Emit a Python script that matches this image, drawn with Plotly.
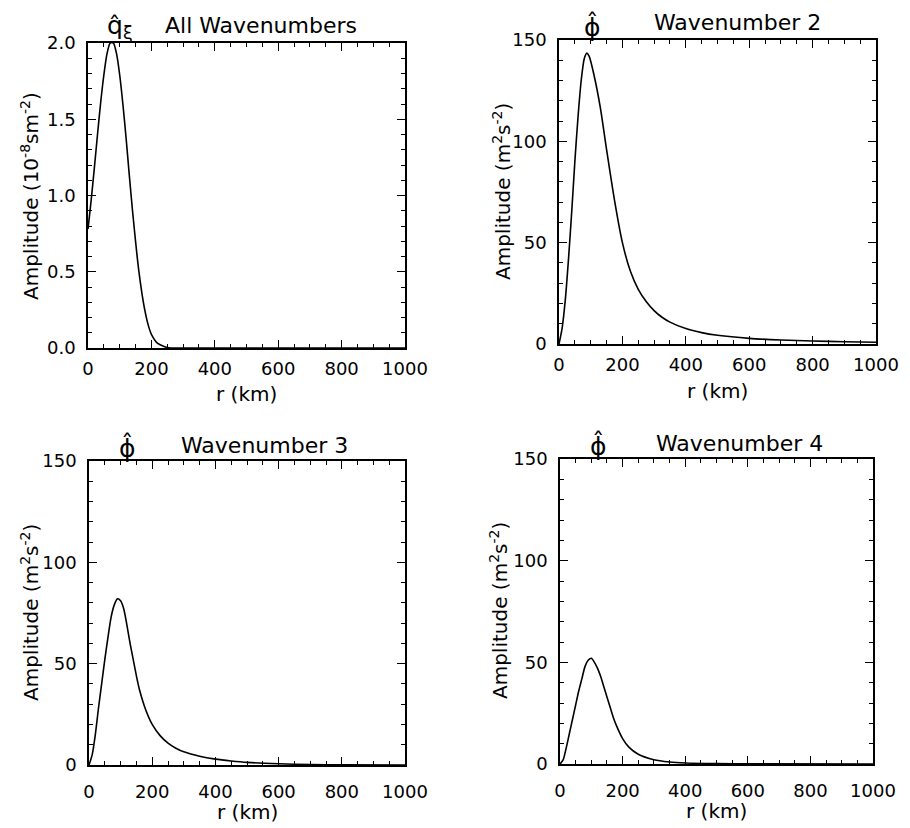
import plotly.graph_objects as go

# ---------------- data ----------------
# Panel 1: q_xi, all wavenumbers (10^-8 s m^-2)
r_all = [0, 10, 20, 30, 40, 50, 60, 70, 80, 90, 100, 110, 120, 130, 140, 150,
         160, 170, 180, 190, 200, 220, 240, 260, 300, 400, 600, 800, 1000]
q_all = [0.78, 0.97, 1.18, 1.40, 1.61, 1.79, 1.93, 2.00, 2.00, 1.93, 1.79, 1.60,
         1.38, 1.14, 0.91, 0.70, 0.51, 0.36, 0.24, 0.15, 0.09, 0.03, 0.01, 0.0,
         0.0, 0.0, 0.0, 0.0, 0.0]

# Panel 2: phi, wavenumber 2 (m^2 s^-2)
r_k2 = [0, 10, 20, 30, 40, 50, 60, 70, 80, 88, 95, 110, 130, 150, 175, 200, 225,
        250, 275, 300, 325, 350, 400, 450, 500, 600, 700, 800, 900, 1000]
phi_k2 = [0, 8, 22, 42, 65, 90, 112, 130, 141, 143.5, 142, 133, 117, 96, 71, 50,
          36, 27, 21, 16.5, 13.2, 10.8, 7.6, 5.6, 4.3, 2.8, 2.0, 1.5, 1.1, 0.9]

# Panel 3: phi, wavenumber 3 (m^2 s^-2)
r_k3 = [0, 10, 20, 30, 40, 50, 60, 70, 80, 90, 100, 110, 120, 130, 140, 150, 160,
        180, 200, 225, 250, 275, 300, 350, 400, 450, 500, 600, 700, 800, 1000]
phi_k3 = [0, 5, 15, 28, 40, 52, 63, 73, 79, 82, 81, 77, 69, 60, 52, 44, 37, 27,
          20, 14.5, 10.8, 8.3, 6.5, 4.3, 2.9, 2.0, 1.3, 0.6, 0.25, 0.1, 0.0]

# Panel 4: phi, wavenumber 4 (m^2 s^-2)
r_k4 = [0, 10, 20, 30, 40, 50, 60, 70, 80, 90, 100, 110, 120, 130, 140, 150, 160,
        170, 180, 200, 220, 250, 300, 350, 400, 500, 600, 1000]
phi_k4 = [0, 2, 8, 15, 22, 29, 36, 42, 48, 51, 52, 50, 47, 43, 38, 33, 28, 23,
          19, 12.5, 8.3, 4.8, 2.1, 1.0, 0.5, 0.2, 0.1, 0.0]

x_ticks = [0, 200, 400, 600, 800, 1000]
q_ticks = [0.0, 0.5, 1.0, 1.5, 2.0]
phi_ticks = [0, 50, 100, 150]

titles = ["All Wavenumbers", "Wavenumber 2", "Wavenumber 3", "Wavenumber 4"]
symbols = ["q̂<sub>ξ</sub>", "ϕ̂", "ϕ̂", "ϕ̂"]
ylabels = ["Amplitude (10<sup>-8</sup>sm<sup>-2</sup>)",
           "Amplitude (m<sup>2</sup>s<sup>-2</sup>)",
           "Amplitude (m<sup>2</sup>s<sup>-2</sup>)",
           "Amplitude (m<sup>2</sup>s<sup>-2</sup>)"]
xlabel = "r (km)"

# ---------------- figure ----------------
# the page body adds an 8px offset; size the figure so it fits the window
OFF = 8
W, H = 902, 820
FONT = "DejaVu Sans"

fig = go.Figure()
series = [(r_all, q_all), (r_k2, phi_k2), (r_k3, phi_k3), (r_k4, phi_k4)]
for i, (xs, ys) in enumerate(series):
    fig.add_trace(go.Scatter(
        x=xs, y=ys, mode="lines",
        line=dict(color="black", width=1.6, shape="spline", smoothing=0.7),
        xaxis="x" if i == 0 else f"x{i+1}",
        yaxis="y" if i == 0 else f"y{i+1}",
        showlegend=False, hoverinfo="skip"))

# pixel frames in window coordinates (left, right, top, bottom)
frames = [(88, 405, 43, 348), (559, 876, 40, 344),
          (89, 405, 461, 765), (560, 873, 459, 764)]
x_standoff = [4, 4, 10, 10]


def px_x(p):
    return (p - OFF) / W


def px_y(p):
    return 1 - (p - OFF) / H


def axis_common():
    return dict(showgrid=False, zeroline=False, showline=True, linecolor="black",
                linewidth=1.5, mirror="ticks", ticks="inside", ticklen=8,
                tickwidth=1.3, tickcolor="black",
                tickfont=dict(family=FONT, size=18, color="black"),
                fixedrange=True, automargin=False)


layout = {}
for i, (l, r, t, b) in enumerate(frames):
    xa = axis_common()
    xa.update(domain=[px_x(l), px_x(r)], range=[0, 1000], tickvals=x_ticks,
              ticktext=[str(v) for v in x_ticks],
              minor=dict(ticks="inside", ticklen=4, dtick=50, tickcolor="black",
                         tickwidth=1),
              anchor="y" if i == 0 else f"y{i+1}",
              ticklabelstandoff=x_standoff[i])
    ya = axis_common()
    if i == 0:
        ya.update(range=[0, 2.0], tickvals=q_ticks,
                  ticktext=[f"{v:.1f}" for v in q_ticks],
                  minor=dict(ticks="inside", ticklen=4, dtick=0.1,
                             tickcolor="black", tickwidth=1))
    else:
        ya.update(range=[0, 150], tickvals=phi_ticks,
                  ticktext=[str(v) for v in phi_ticks],
                  minor=dict(ticks="inside", ticklen=4, dtick=10,
                             tickcolor="black", tickwidth=1))
    ya.update(domain=[px_y(b), px_y(t)],
              anchor="x" if i == 0 else f"x{i+1}",
              ticklabelstandoff=7)
    layout["xaxis" if i == 0 else f"xaxis{i+1}"] = xa
    layout["yaxis" if i == 0 else f"yaxis{i+1}"] = ya

annotations = []
# titles: (symbol x, symbol y, text center x, text y)
title_pos = [(120, 27, 261, 25), (592, 26, 737, 22),
             (127, 447, 264, 445), (598, 445, 739, 443)]
for i, (sx, sy, tx, ty) in enumerate(title_pos):
    annotations.append(dict(x=px_x(sx), y=px_y(sy), xref="paper", yref="paper",
                            text=symbols[i], showarrow=False,
                            font=dict(family=FONT, size=25, color="black"),
                            xanchor="center", yanchor="middle"))
    annotations.append(dict(x=px_x(tx), y=px_y(ty), xref="paper", yref="paper",
                            text=titles[i], showarrow=False,
                            font=dict(family=FONT, size=22, color="black"),
                            xanchor="center", yanchor="middle"))

# axis titles
xlab_pos = [(246, 394), (717, 391), (247, 812), (716, 811)]
ylab_pos = [(30, 196), (502, 192), (30, 613), (499, 611)]
for i in range(4):
    annotations.append(dict(x=px_x(xlab_pos[i][0]), y=px_y(xlab_pos[i][1]),
                            xref="paper", yref="paper", text=xlabel,
                            showarrow=False,
                            font=dict(family=FONT, size=20, color="black"),
                            xanchor="center", yanchor="middle"))
    annotations.append(dict(x=px_x(ylab_pos[i][0]), y=px_y(ylab_pos[i][1]),
                            xref="paper", yref="paper", text=ylabels[i],
                            showarrow=False, textangle=-90,
                            font=dict(family=FONT, size=20, color="black"),
                            xanchor="center", yanchor="middle"))

fig.update_layout(width=W, height=H,
                  margin=dict(l=0, r=0, t=0, b=0, pad=0, autoexpand=False),
                  paper_bgcolor="white", plot_bgcolor="white",
                  annotations=annotations, **layout)

fig.write_html("out.html")
